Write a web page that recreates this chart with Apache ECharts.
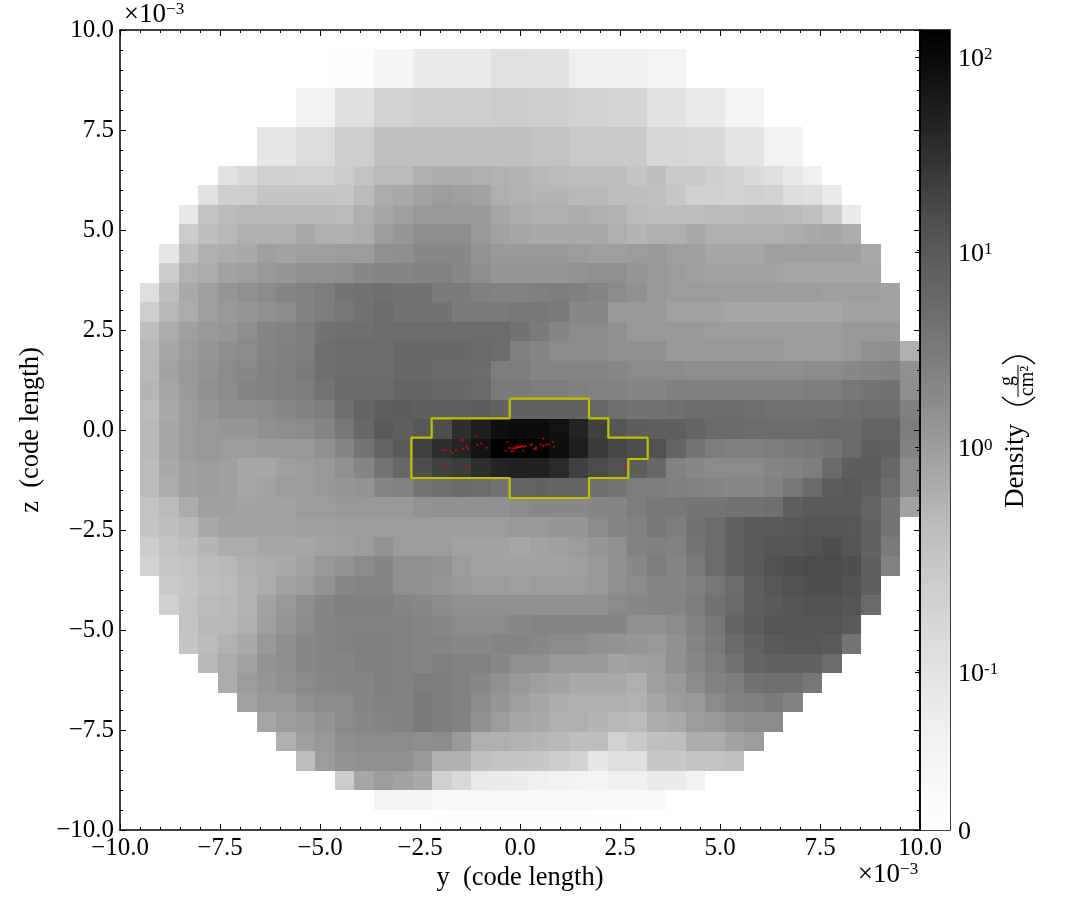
<!DOCTYPE html>
<html>
<head>
<meta charset="utf-8">
<style>html,body{margin:0;padding:0;background:#fff}#c{width:1085px;height:919px}</style>
<script src="https://cdn.jsdelivr.net/npm/echarts@6/dist/echarts.min.js"></script>
</head>
<body>
<div id="c"></div>
<script>
// Density per cell, read as position on the colour bar (% of bar height). null = no data.
const firstCol = [0,11,11,9,9,7,7,5,4,3,3,2,2,1,1,1,1,1,1,1,1,1,1,1,1,1,1,1,2,2,3,3,4,5,6,7,8,9,11,13,16];
const row00 = [];
const row01 = [2,2,8,8,15,15,15,15,21,21,20,20,13,13,13,13,10,10];
const row02 = [2,2,8,8,15,15,15,15,21,21,20,20,13,13,13,13,10,10];
const row03 = [12,12,22,22,28,28,30,30,30,30,31,31,30,30,28,28,27,27,20,20,16,16,8,8];
const row04 = [12,12,22,22,28,28,30,30,30,30,31,31,30,30,28,28,27,27,20,20,16,16,8,8];
const row05 = [18,18,23,23,30,30,36,36,36,36,36,36,36,36,35,35,32,32,32,32,26,26,25,25,19,19,11,11];
const row06 = [18,18,23,23,30,30,36,36,36,36,36,36,36,36,35,35,32,32,32,32,26,26,25,25,19,19,11,11];
const row07 = [20,25,29,29,28,28,31,35,38, 38,42,43,43,42,41,40,39,38,37,37,37,34,37, 32,32,30,28,24,22,17,13];
const row08 = [20,30,30,34,34,34,34,33,38,43, 44,46,48,47,46,42,41,40,40,39,39,37,37,36, 33,29,29,28,29,28,23,22,15];
const row09 = [17,35,38,39,39,39,39,39,38,42,45, 47,49,49,49,49,45,43,42,42,43,42,41,38,37, 37,37,38,38,39,39,38,36,31,16];
const row10 = [31,37,39,42,42,42,44,42,42,43,48, 50,53,53,53,49,46,45,44,44,44,44,42,40,42, 42,44,42,42,42,42,43,44,45,43];
const row11 = [18,37,42,43,44,47,46,47,47,48,48,52, 53,55,55,55,51,49,49,49,49,48,47,47,48,49, 47,47,45,45,45,47,47,47,47,47,44];
const row12 = [31,41,43,46,47,49,50,52,52,53,55,56, 56,57,57,55,53,50,50,50,50,51,52,52,50,49, 48,47,46,46,46,46,45,45,45,45,45];
const row13 = [22,37,44,47,50,52,54,56,57,59,62,63,64, 63,63,60,60,58,57,57,58,59,58,56,54,52,49, 48,48,48,48,48,48,48,48,47,47,47,46];
const row14 = [30,39,43,47,49,50,52,54,57,59,61,63,65, 63,63,63,60,60,60,61,61,60,55,55,49,49,49, 46,46,46,45,45,45,45,45,45,46,46,46];
const row15 = [37,43,47,49,50,53,56,57,59,63,64,64,65, 65,65,65,65,65,65,63,60,56,54,54,52,49,49, 49,49,48,48,48,48,48,48,48,49,49,49];
const row16 = [39,45,48,50,53,54,56,58,59,64,65,65,65, 67,67,67,67,66,65,58,56,54,54,54,52,52,52, 49,49,49,49,49,49,48,48,48,49,52,53, 42];
const row17 = [39,46,49,51,54,55,57,58,60,64,65,65,65, 67,67,66,66,65,59,59,56,56,56,56,55,54,54, 54,53,53,53,53,53,53,54,54,55,56,57, 52];
const row18 = [40,45,49,52,54,56,57,58,59,62,66,66,66, 68,68,67,67,66,60,60,59,59,58,57,57,56,56, 58,58,58,58,58,58,58,59,59,61,62,63, 53];
const row19 = [38,44,48,50,53,53,54,55,57,59,64,68,70, 71,70,70,70,71,69,69,69,69,69,67,64,63,63, 64,65,65,65,64,63,63,63,63,64,65,65, 58];
const row20 = [39,45,48,49,50,50,52,53,54,56,61,67,72, 70,73,76,85,90,95,96,96,94,88,80,74,71,70, 70,68,66,66,65,65,65,65,66,66,68,68, 59];
const row21 = [39,45,48,49,48,48,49,49,49,52,56,62,68, 72,80,85,88,94,100,100,99,95,90,82,78,76,75, 68,62,59,58,58,59,60,61,62,66,70,69, 57];
const row22 = [38,44,47,48,47,45,45,47,48,49,52,56,62, 67,76,80,81,85,88,89,89,86,80,77,75,71,67, 57,55,54,54,54,56,57,59,66,71,71,67, 54];
const row23 = [38,43,47,48,47,45,46,48,48,49,50,51,56, 57,62,64,66,65,63,68,69,68,68,64,62,59,59, 58,57,56,55,55,57,61,66,71,72,70,65, 54];
const row24 = [35,38,43,47,47,46,46,46,48,48,49,49,49, 49,51,52,52,52,52,54,55,55,55,56,56,59,61, 61,62,62,63,63,64,70,72,72,72,68,62, 46];
const row25 = [34,37,39,44,46,46,46,46,47,47,48,48,48, 48,48,48,48,48,48,49,49,50,50,54,56,57,61, 59,63,65,69,72,72,73,74,74,73,69,62];
const row26 = [31,35,37,40,43,43,45,45,45,46,47,48,51, 48,48,48,46,46,46,45,46,47,48,50,52,57,58, 57,62,65,69,72,74,74,75,76,74,69,60];
const row27 = [28,33,35,38,39,42,43,44,46,49,51,54,56, 52,52,51,48,46,46,46,46,46,47,49,52,55,59, 56,60,65,69,72,75,76,77,77,76,70,57];
const row28 = [32,34,37,38,41,43,46,48,51,55,56,56, 52,52,50,49,48,48,47,48,48,48,49,52,54,56, 56,58,61,65,70,73,75,76,76,75,70];
const row29 = [29,35,38,39,41,46,49,53,56,58,58,58, 56,55,54,52,52,52,52,52,52,52,52,54,55,56, 56,59,63,66,70,72,74,75,75,74,66];
const row30 = [35,39,39,42,47,50,54,56,57,57,57, 57,56,55,54,54,54,55,56,56,56,56,56,52,52, 54,57,61,68,71,74,74,74,74,72];
const row31 = [34,38,41,44,49,53,55,56,57,58,58, 57,56,56,55,55,56,56,55,54,54,52,51,50,49, 52,56,60,66,69,72,73,73,72,62];
const row32 = [39,43,46,51,53,55,56,56,58,58, 57,56,58,57,57,55,52,52,49,49,49,46,47,48, 52,55,59,63,68,69,69,69,65];
const row33 = [43,48,50,52,54,55,56,56,58, 57,59,59,57,55,52,49,47,46,44,44,44,42,47, 49,54,57,59,63,64,64,61];
const row34 = [46,49,49,52,54,54,56,57, 57,60,59,57,54,50,47,45,43,42,42,42,41,45, 48,49,54,57,58,60,57];
const row35 = [45,48,49,51,54,55,56, 57,60,59,57,52,48,45,44,42,42,40,39,38,43, 44,48,49,52,54,54];
const row36 = [42,47,49,53,54,54, 54,53,54,49,42,42,41,40,39,37,37,28,32,36, 37,43,43,46,48];
const row37 = [37,48,51,52,52, 52,49,42,42,36,35,34,33,31,28,18,22,22,33, 33,35,35,36];
const row38 = [31,45,48, 46,44,29,25,16,15,14,13,12,10,9,13,13,16, 15,11];
const row39 = [9, 9,9,6,6,6,6,6,6,6,6,6,6,6,6];
const row40 = [1,2,2,2,2,2,2,2,1,1];
const rows = [row00,row01,row02,row03,row04,row05,row06,row07,row08,row09,row10,row11,row12,row13,row14,row15,row16,row17,row18,row19,row20,row21,row22,row23,row24,row25,row26,row27,row28,row29,row30,row31,row32,row33,row34,row35,row36,row37,row38,row39,row40];

const gridCells = 41;
const yTicksMin = -10, yTicksMax = 10;
const zShift = 0.02; // the mesh sits very slightly above the axis grid

// Yellow outline (y, z) in units of 1e-3 code length
const contourY = [-0.2575,1.725,1.725,2.2075,2.2075,3.1925,3.1925,2.7075,2.7075,1.725,1.725,-0.2575,-0.2575,-2.7175,-2.7175,-2.2075,-2.2075,-0.2575,-0.2575];
const contourZ = [0.7825,0.7825,0.2925,0.2925,-0.1925,-0.1925,-0.725,-0.725,-1.2,-1.2,-1.7,-1.7,-1.2,-1.2,-0.1925,-0.1925,0.2925,0.2925,0.7825];

// Red particles (y, z) in units of 1e-3 code length
const particleY = [-1.092,-1.45,-1.925,-1.842,-1.683,-1.6,-1.417,-1.333,-1.3,-1.067,-0.975,-0.833,-0.317,-0.358,-0.275,-0.217,-0.167,-0.208,-0.133,-0.083,-0.067,-0.017,0.05,0.083,0.133,0.267,0.3,0.35,0.4,0.4,0.517,0.583,0.583,0.65,0.717,0.817,0.85,-1.9,-1.342,2.625,-0.167,-0.108,-0.05,0.017,0.1];
const particleZ = [-0.158,-0.25,-0.5,-0.508,-0.575,-0.5,-0.475,-0.417,-0.467,-0.375,-0.333,-0.442,-0.3,-0.525,-0.442,-0.533,-0.525,-0.458,-0.458,-0.433,-0.4,-0.433,-0.4,-0.517,-0.4,-0.375,-0.358,-0.467,-0.433,-0.467,-0.358,-0.217,-0.4,-0.375,-0.358,-0.3,-0.417,-0.925,-0.925,-0.9,-0.458,-0.45,-0.433,-0.417,-0.417];

// Colour bar ticks
const densityTicks = [0, 0.1, 1, 10, 100];
const densityLabels = ['0', '10{s|-1}', '10{s|0}', '10{s|1}', '10{s|2}'];
const greys = ['#ffffff','#f0f0f0','#d9d9d9','#bdbdbd','#969696','#737373','#525252','#252525','#000000'];

const FONT = '"Liberation Serif","DejaVu Serif",serif';
const INK = '#000';

function densityToLevel(d){
  const L = 0.135;
  if (d < L) return d / L * 26.6;
  return 47.8 + 24.4 * Math.log10(d);
}
const tickLevels = densityTicks.map(densityToLevel);

const step = (yTicksMax - yTicksMin) / gridCells;
const cells = [];
rows.forEach((r, ri) => r.forEach((v, k) => {
  if (v === null) return;
  const c = firstCol[ri] + k;
  cells.push([yTicksMin + c*step, yTicksMin + (c+1)*step, yTicksMax + zShift - (ri+1)*step, yTicksMax + zShift - ri*step, v]);
}));
const rampLevels = [];
for (let i = 0; i < 100; i++) rampLevels.push([0, 1, i, i + 1, i + 0.5]);

function renderCell(params, api){
  const a = api.coord([api.value(0), api.value(3)]);
  const b = api.coord([api.value(1), api.value(2)]);
  const x0 = Math.round(a[0]), y0 = Math.round(a[1]), x1 = Math.round(b[0]), y1 = Math.round(b[1]);
  return {type:'rect', shape:{x:x0, y:y0, width:x1-x0, height:y1-y0}, style:{fill:api.visual('color')}};
}
const fmt = v => v.toFixed(1).replace('-', '\u2212');
function mainAxis(type, pos, labelled, idx){
  return {
    type:'value', min:-10, max:10, interval:2.5, position:pos, gridIndex:idx, z:5,
    axisLine:{show:true, onZero:false, lineStyle:{color:INK, width:1.5}},
    axisTick:{show:true, inside:true, length:6, lineStyle:{color:INK, width:1}},
    minorTick:{show:true, splitNumber:5, length:3, lineStyle:{color:INK, width:1}},
    splitLine:{show:false},
    axisLabel:{show:labelled, formatter:fmt, fontFamily:FONT, fontSize:25, color:INK, margin:type==='x'?6:6,
      padding:type==='x'?0:[4,0,0,0], showMinLabel:true, showMaxLabel:true, hideOverlap:false}
  };
}
const chart = echarts.init(document.getElementById('c'), null, {renderer:'canvas'});
const sup3 = {a:{fontFamily:FONT,fontSize:27,color:INK}, b:{fontFamily:FONT,fontSize:17,color:INK,verticalAlign:'top',padding:[0,0,8,0]}};
function label(text,x,y,rot,size,extra){
  return Object.assign({type:'text', x:x, y:y, rotation:rot||0, silent:true, z:20,
    style:{text:text, fontFamily:FONT, fontSize:size||26.5, fill:INK, textAlign:'center', textVerticalAlign:'middle'}}, extra||{});
}
chart.setOption({
  animation:false,
  backgroundColor:'#fff',
  textStyle:{fontFamily:FONT},
  grid:[
    {left:120, top:30, width:800, height:800, containLabel:false},
    {left:920, top:30, width:30, height:800, containLabel:false, show:true, borderColor:INK, borderWidth:1.5, backgroundColor:'transparent'}
  ],
  xAxis:[
    mainAxis('x','bottom',true,0),
    mainAxis('x','top',false,0),
    {type:'value', gridIndex:1, min:0, max:1, show:false}
  ],
  yAxis:[
    mainAxis('y','left',true,0),
    mainAxis('y','right',false,0),
    {type:'value', gridIndex:1, min:0, max:100, position:'right', z:6,
      axisLine:{show:true, lineStyle:{color:INK, width:1.5}},
      axisTick:{show:true, inside:true, length:5, customValues:tickLevels, lineStyle:{color:INK, width:1}},
      minorTick:{show:false}, splitLine:{show:false},
      axisLabel:{show:true, customValues:tickLevels, margin:8, align:'left', color:INK, fontFamily:FONT, fontSize:26, padding:[4,0,0,0],
        formatter:function(v){
          let best=0; tickLevels.forEach((t,i)=>{ if(Math.abs(t-v)<Math.abs(tickLevels[best]-v)) best=i; });
          return densityLabels[best];
        },
        rich:{s:{fontFamily:FONT,fontSize:17,color:INK,verticalAlign:'top',padding:[0,0,8,0]}}
      }}
  ],
  visualMap:[
    {type:'continuous', show:false, min:0, max:100, dimension:4, seriesIndex:[0,3], inRange:{color:greys}}
  ],
  series:[
    {type:'custom', name:'Density', xAxisIndex:0, yAxisIndex:0, data:cells, renderItem:renderCell, encode:{x:[0,1], y:[2,3]}, silent:true, z:1, clip:true},
    {type:'line', name:'outline', xAxisIndex:0, yAxisIndex:0, data:contourY.map((v,i)=>[v,contourZ[i]]), showSymbol:false, symbol:'none', lineStyle:{color:'#bfbf00', width:2.2}, silent:true, z:3},
    {type:'scatter', name:'particles', xAxisIndex:0, yAxisIndex:0, data:particleY.map((v,i)=>[v,particleZ[i]]), symbol:'rect', symbolSize:1.8, itemStyle:{color:'#ff0000'}, silent:true, z:4},
    {type:'custom', name:'colorbar', xAxisIndex:2, yAxisIndex:2, data:rampLevels, renderItem:renderCell, encode:{x:[0,1], y:[2,3]}, silent:true, z:1, clip:true}
  ],
  graphic:[
    label('y  (code length)', 520, 878),
    label('z  (code length)', 31, 430, Math.PI/2),
    label('', 154, 15, 0, 27, {style:{text:'{a|\u00d710}{b|\u22123}', rich:sup3, fill:INK, textAlign:'center', textVerticalAlign:'middle'}}),
    label('', 888, 875, 0, 27, {style:{text:'{a|\u00d710}{b|\u22123}', rich:sup3, fill:INK, textAlign:'center', textVerticalAlign:'middle'}}),
    label('Density', 1016, 466, Math.PI/2, 27),
    label('g', 1008, 381, Math.PI/2, 20),
    label('cm\u00b2', 1028, 381, Math.PI/2, 20),
    {type:'line', silent:true, z:20, shape:{x1:1018, y1:365, x2:1018, y2:397}, style:{stroke:INK, lineWidth:1}},
    {type:'bezierCurve', silent:true, z:20, shape:{x1:1002, y1:364, x2:1035, y2:364, cpx1:1018.5, cpy1:348}, style:{stroke:INK, lineWidth:1.3, fill:'none'}},
    {type:'bezierCurve', silent:true, z:20, shape:{x1:1002, y1:397, x2:1035, y2:397, cpx1:1018.5, cpy1:413}, style:{stroke:INK, lineWidth:1.3, fill:'none'}}
  ]
});
</script>
</body>
</html>
